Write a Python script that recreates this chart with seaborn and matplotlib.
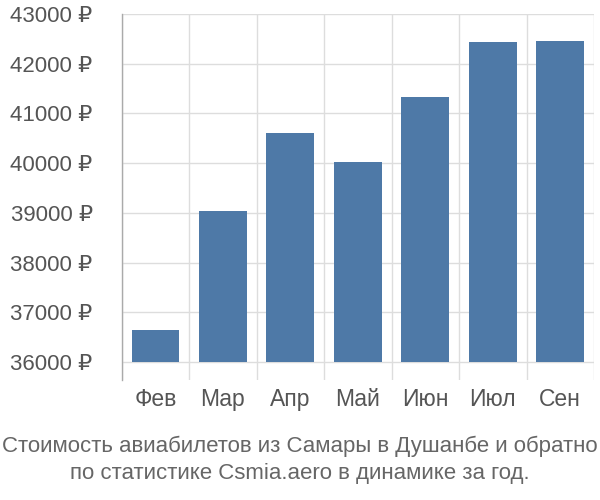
import matplotlib
matplotlib.use("Agg")
import matplotlib.pyplot as plt
import seaborn as sns
import pandas as pd
import numpy as np

# Prices
months = ["Фев", "Мар", "Апр", "Май", "Июн", "Июл", "Сен"]
prices = [36640, 39030, 40610, 40020, 41330, 42440, 42460]
y_ticks = [36000, 37000, 38000, 39000, 40000, 41000, 42000, 43000]
base = 36000

sns.set_theme(style="white")
plt.rcParams["font.family"] = ["Liberation Sans", "DejaVu Sans"]

df = pd.DataFrame({"month": months, "price": prices})

fig = plt.figure(figsize=(6, 5), dpi=100)
ax = fig.add_axes([0.203, 0.24, 0.787, 0.732])

sns.barplot(data=df, x="month", y="price", color="#4e79a7", saturation=1,
            width=0.71, ax=ax, zorder=3)

# bars start at the lowest tick, not at zero
for p in ax.patches:
    top = p.get_y() + p.get_height()
    p.set_y(base)
    p.set_height(top - base)
    p.set_edgecolor("none")

ax.set_ylim(35640, 43000)
ax.set_xlim(-0.5, len(months) - 0.5)
ax.set_yticks(y_ticks)
ax.set_yticklabels([f"{v} ₽" for v in y_ticks], fontsize=16, color="#555555")
ax.set_xticks(range(len(months)))
ax.set_xticklabels(months, fontsize=16.5, color="#555555")
ax.set_xticks(np.arange(-0.5, len(months)), minor=True)

ax.grid(axis="y", which="major", color="#dddddd", lw=1, zorder=0)
ax.grid(axis="x", which="minor", color="#dddddd", lw=1, zorder=0)
ax.tick_params(axis="y", length=20, color="#dddddd", pad=1)
ax.tick_params(axis="x", which="major", length=0, pad=6)
ax.tick_params(axis="x", which="minor", length=0)
ax.set_xlabel("")
ax.set_ylabel("")

for s in ["top", "right", "bottom"]:
    ax.spines[s].set_visible(False)
ax.spines["left"].set_color("#aaaaaa")
ax.spines["left"].set_linewidth(1)

fig.text(0.5, 0.107, "Стоимость авиабилетов из Самары в Душанбе и обратно",
         ha="center", va="center", fontsize=16, color="#666666")
fig.text(0.5, 0.053, "по статистике Csmia.aero в динамике за год.",
         ha="center", va="center", fontsize=16, color="#666666")

fig.savefig("out.png", dpi=100)
